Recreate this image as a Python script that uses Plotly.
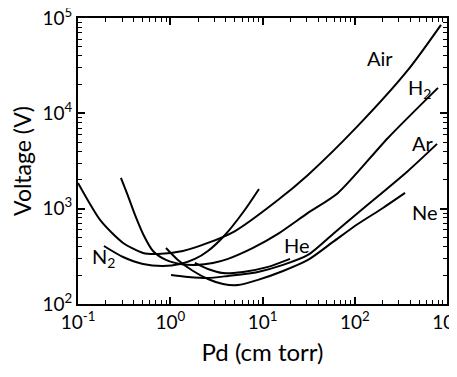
import plotly.graph_objects as go

# Paschen curves: breakdown voltage (V) vs pressure x gap (cm torr)
air_pd = [0.1, 0.177, 0.308, 0.507, 0.736, 1.37, 2.56, 5.04, 14.7, 31.1, 108, 378, 861]
air_v = [1862, 743, 437, 343, 335, 360, 437, 583, 1233, 2260, 7380, 28500, 84700]

n2_pd = [0.191, 0.308, 0.507, 0.834, 1.28, 1.85, 2.56, 3.92, 6.31, 9.16]
n2_v = [406, 311, 263, 251, 263, 297, 360, 530, 946, 1610]

h2_pd = [0.292, 0.348, 0.415, 0.507, 0.650, 0.899, 1.28, 1.90, 2.90, 4.23, 7.89, 14.7, 31.1, 65.8, 229, 798]
h2_v = [2100, 1360, 859, 543, 360, 290, 263, 257, 269, 297, 387, 543, 902, 1462, 5520, 18500]

he_pd = [1.85, 2.56, 3.73, 6.15, 11.5, 19.9]
he_v = [270, 233, 211, 217, 245, 297]

ar_pd = [1.02, 1.56, 2.56, 4.23, 8.93, 16.7, 31.1, 58.1, 108, 378, 780]
ar_v = [201, 192, 187, 197, 217, 257, 327, 543, 902, 2490, 4780]

ne_pd = [0.899, 1.21, 1.77, 2.56, 3.73, 5.42, 8.93, 16.7, 31.1, 58.1, 108, 202, 351]
ne_v = [387, 290, 222, 183, 162, 158, 179, 222, 290, 448, 690, 1016, 1462]

x_tickvals = [0.1, 1, 10, 100, 1000]
x_ticktext = ["10<sup>-1</sup>", "10<sup>0</sup>", "10<sup>1</sup>", "10<sup>2</sup>", "10<sup>3</sup>"]
y_tickvals = [100, 1000, 10000, 100000]
y_ticktext = ["10<sup>2</sup>", "10<sup>3</sup>", "10<sup>4</sup>", "10<sup>5</sup>"]

curves = [
    ("Air", air_pd, air_v),
    ("N2", n2_pd, n2_v),
    ("H2", h2_pd, h2_v),
    ("He", he_pd, he_v),
    ("Ar", ar_pd, ar_v),
    ("Ne", ne_pd, ne_v),
]

fig = go.Figure()
for name, xs, ys in curves:
    fig.add_trace(go.Scatter(
        x=xs, y=ys, mode="lines", name=name, showlegend=False,
        line=dict(color="black", width=2, shape="spline", smoothing=0.7),
    ))

FONT = "Lato"

minor_x = [m * 10 ** e for e in range(-1, 3) for m in range(2, 10)]
minor_y = [m * 10 ** e for e in range(2, 5) for m in range(2, 10)]

axis_common = dict(
    type="log", showline=True, linecolor="black", linewidth=2, mirror="allticks",
    ticks="inside", ticklen=7, tickwidth=1.5, tickcolor="black",
    showgrid=False, zeroline=False, tickmode="array", automargin=False,
    ticklabeloverflow="allow",
    tickfont=dict(family=FONT, size=19, color="black"),
)

fig.update_xaxes(
    **axis_common, range=[-1, 3], tickvals=x_tickvals, ticktext=x_ticktext,
    minor=dict(tickmode="array", tickvals=minor_x, ticks="inside", ticklen=4,
               tickwidth=1, tickcolor="black", showgrid=False),
    title=dict(text="Pd (cm torr)", font=dict(family=FONT, size=24, color="black"), standoff=12),
)
fig.update_yaxes(
    **axis_common, range=[2, 5], tickvals=y_tickvals, ticktext=y_ticktext,
    minor=dict(tickmode="array", tickvals=minor_y, ticks="inside", ticklen=4,
               tickwidth=1, tickcolor="black", showgrid=False),
    title=dict(text="Voltage (V)", font=dict(family=FONT, size=23, color="black"), standoff=6),
)

labels = [
    ("Air", 2.274, 4.581, "center"),
    ("H<sub>2</sub>", 2.556, 4.26, "left"),
    ("Ar", 2.599, 3.689, "left"),
    ("Ne", 2.599, 2.965, "left"),
    ("He", 1.211, 2.619, "left"),
    ("N<sub>2</sub>", -0.870, 2.49, "left"),
]
for text, lx, ly, anchor in labels:
    fig.add_annotation(
        x=lx, y=ly, xref="x", yref="y", text=text, showarrow=False,
        xanchor=anchor, yanchor="middle",
        font=dict(family=FONT, size=20, color="black"),
    )

fig.update_layout(
    width=457, height=377,
    margin=dict(l=70, r=18, t=10, b=81),
    paper_bgcolor="white", plot_bgcolor="white",
    font=dict(family=FONT, size=19, color="black"),
)

fig.write_html("out.html")
